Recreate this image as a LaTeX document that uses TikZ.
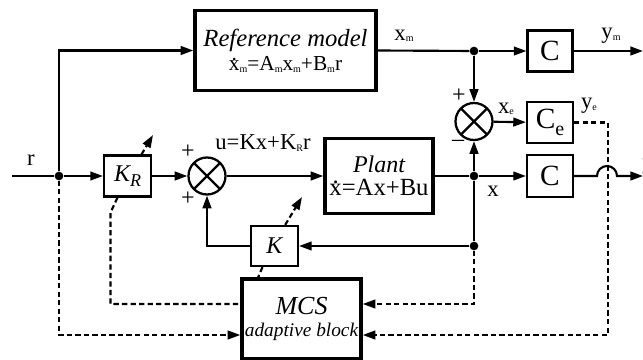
\documentclass[tikz,border=0pt]{standalone}
\usepackage{fontspec}
\setmainfont{Liberation Serif}
\usetikzlibrary{arrows.meta,calc}
\newcommand{\msub}[1]{\raisebox{-0.15ex}{\fontsize{7.5pt}{7.5pt}\selectfont #1}}
\newcommand{\dotx}{{\ooalign{x\cr\hidewidth\raisebox{0.5em}{.}\hidewidth\cr}}}
\begin{document}
\begin{tikzpicture}[x=0.75pt,y=-0.75pt,
  sig/.style={line width=1.6pt},
  arr/.style={-{Triangle[length=9.5pt,width=6.5pt]}},
  dsh/.style={line width=1.6pt, dash pattern=on 4pt off 2.4pt},
  blk/.style={draw, line width=1.6pt, inner sep=0pt, align=center},
  thk/.style={line width=2.5pt},
  dot/.style={circle, fill, inner sep=0pt, minimum size=6.5pt},
  sumj/.style={circle, draw, line width=1.7pt, minimum size=27.75pt, inner sep=0pt,
    path picture={\draw[line width=1.7pt] (path picture bounding box.north west) -- (path picture bounding box.south east)
      (path picture bounding box.south west) -- (path picture bounding box.north east);}},
  lbl/.style={inner sep=0pt, font=\fontsize{17}{17}\selectfont},
  sgn/.style={inner sep=0pt, font=\fontsize{18}{18}\selectfont},
]
\useasboundingbox (0,0) rectangle (643,360);

% blocks
\node[blk, thk, minimum width=135.75pt, minimum height=60pt] (ref) at (285.5,50.5)
  {{\fontsize{18.5}{18.5}\selectfont\itshape Reference model}\\[3pt]
   {\fontsize{16}{16}\selectfont \dotx\msub{m}=A\msub{m}x\msub{m}+B\msub{m}r}};
\node[blk, thk, minimum width=81pt, minimum height=56.25pt] (pl) at (379,176)
  {{\fontsize{18}{18}\selectfont\itshape Plant}\\[4pt]
   {\fontsize{18.5}{18.5}\selectfont \dotx=Ax+Bu}};
\node[blk, minimum width=35.25pt, minimum height=30.75pt, font=\fontsize{18}{18}\selectfont\itshape] (kr) at (127.5,176)
  {K\raisebox{-0.45ex}{\fontsize{13.5}{13.5}\selectfont R}};
\node[blk, minimum width=35.25pt, minimum height=30pt, font=\fontsize{18}{18}\selectfont\itshape] (k) at (274.5,246) {K};
\node[blk, minimum width=33.75pt, minimum height=30.75pt, font=\fontsize{22}{22}\selectfont] (ct) at (550,51) {C};
\node[blk, minimum width=34.5pt, minimum height=30.75pt, font=\fontsize{22}{22}\selectfont] (ce) at (550,122.5)
  {C\raisebox{-0.5ex}{\fontsize{15}{15}\selectfont e}};
\node[blk, minimum width=34.5pt, minimum height=31.5pt, font=\fontsize{22}{22}\selectfont] (cb) at (550,176) {C};
\node[blk, line width=2.6pt, minimum width=89.25pt, minimum height=60pt] (mcs) at (301.5,319)
  {{\fontsize{19.5}{19.5}\selectfont\itshape MCS}\\[4pt]
   {\fontsize{14.5}{14.5}\selectfont\itshape adaptive block}};

% summing junctions
\node[sumj] (s1) at (207,176) {};
\node[sumj] (s2) at (474,121.5) {};

% branch dots
\node[dot] (d1) at (59,176) {};
\node[dot] (dx) at (474,176) {};
\node[dot] (dm) at (474,51) {};
\node[dot] (df) at (474,246) {};

% free ends
\coordinate (rin) at (12,176);
\coordinate (ymend) at (643,51);
\coordinate (yend) at (643,176);
\coordinate (h1) at (597,176);
\coordinate (h2) at (617,176);
\coordinate (yec) at (608,335);
\coordinate (kra) at (153,135);
\coordinate (ka) at (302,197);

% signal lines
\draw[sig] (rin) -- (d1);
\draw[sig,arr] (d1) -- (kr);
\draw[sig,arr] (d1) |- (ref.west);
\draw[sig,arr] (kr) -- (s1);
\draw[sig,arr] (s1) -- (pl);
\draw[sig] (pl) -- (dx);
\draw[sig,arr] (dx) -- (cb);
\draw[sig] (ref.east) -- (dm);
\draw[sig,arr] (dm) -- (ct);
\draw[sig,arr] (ct) -- (ymend);
\draw[sig,arr] (dm) -- (s2);
\draw[sig,arr] (dx) -- (s2);
\draw[sig,arr] (s2) -- (ce);
\draw[sig] (dx) -- (df);
\draw[sig,arr] (df) -- (k);
\draw[sig,arr] (k.west) -| (s1.south);
\draw[sig,arr] (cb.east) -- (h1) arc[start angle=180,end angle=0,radius=7.5pt] -- (yend);

% adjustable gains
\draw[dsh,arr] ([xshift=10.5pt]kr.north) -- (kra);
\draw[dsh,arr] ([xshift=8pt]k.north) -- (ka);

% adaptation (dashed) lines
\draw[dsh,arr] (ce.east) -| (yec) -- (mcs.east |- yec);
\draw[dsh,arr] (df) |- ([yshift=11.25pt]mcs.east);
\draw[dsh,arr] (d1) |- ([yshift=-12pt]mcs.west);
\draw[dsh] ([xshift=-7.5pt]kr.south) -- ++(-7,15) |- ([yshift=11.25pt]mcs.west);
\draw[dsh] ([xshift=-9pt]k.south) -- ([xshift=-32.5pt]mcs.north);

% labels
\node[lbl] at (31,160) {r};
\node[lbl] at (263,143) {u=Kx+K\msub{R}r};
\node[lbl] at (493,191) {x};
\node[lbl] at (404,36) {x\msub{m}};
\node[lbl] at (506,109) {x\msub{e}};
\node[lbl] at (589,106) {y\msub{e}};
\node[lbl] at (611,36) {y\msub{m}};
\node[lbl] at (648,167) {y};
\node[sgn] at (188,152) {+};
\node[sgn] at (188,199) {+};
\node[sgn] at (459,96) {+};
\node[sgn] at (458,143) {\textendash};
\end{tikzpicture}
\end{document}
